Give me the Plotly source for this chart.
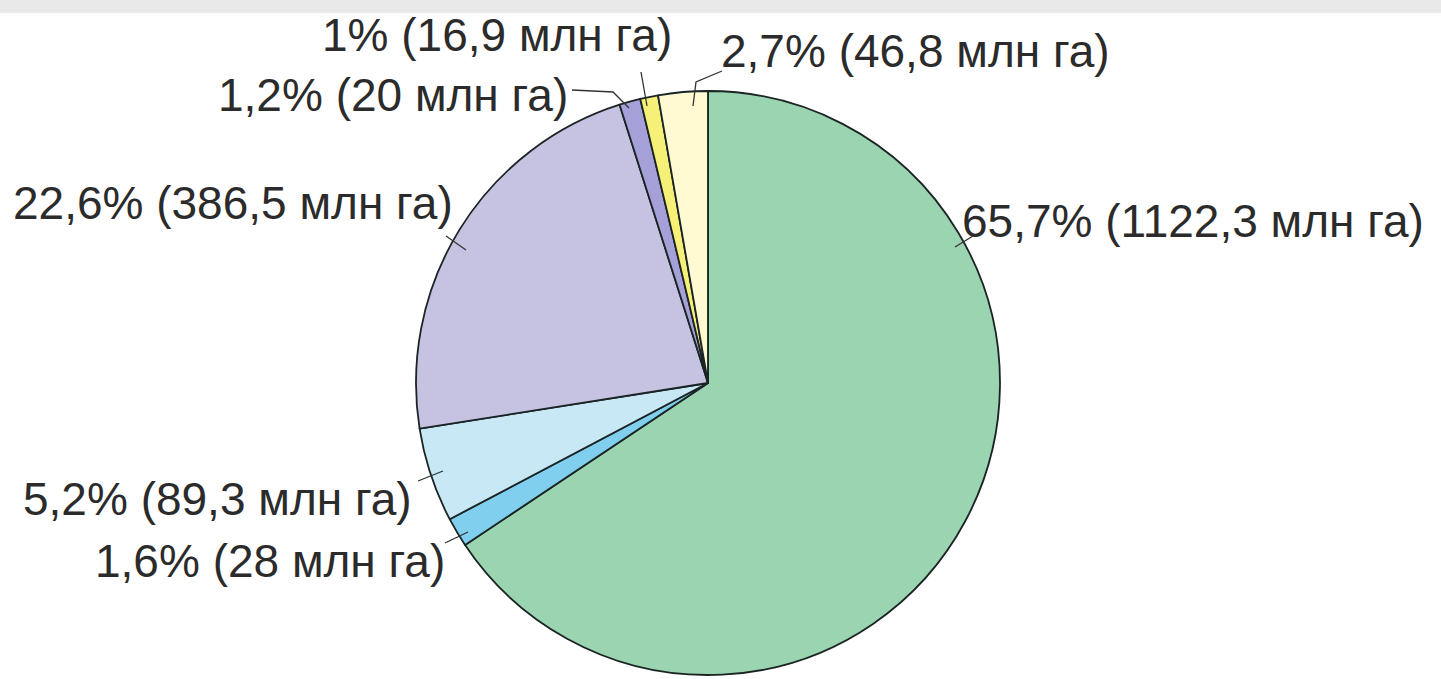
import plotly.graph_objects as go

# ---- data ----
areas_mln_ha = [1122.3, 28, 89.3, 386.5, 20, 16.9, 46.8]
percent_labels = ["65,7%", "1,6%", "5,2%", "22,6%", "1,2%", "1%", "2,7%"]
area_labels = ["1122,3", "28", "89,3", "386,5", "20", "16,9", "46,8"]
unit = "млн га"
colors = ["#9bd4b0", "#80cfef", "#c8e8f6", "#c6c2e2", "#a6a0d8", "#f6ef78", "#fffad2"]

W, H = 1441, 679

fig = go.Figure(go.Pie(
    values=areas_mln_ha,
    labels=[f"{p} ({a} {unit})" for p, a in zip(percent_labels, area_labels)],
    sort=False,
    direction="clockwise",
    rotation=0,
    marker=dict(colors=colors, line=dict(color="#1b2424", width=1.8)),
    textinfo="none",
    hoverinfo="label",
    showlegend=False,
    domain=dict(x=[416 / W, 1000 / W], y=[1 - 675 / H, 1 - 91 / H]),
))

# ---- label layout (pixel positions) ----
# (text index, x px, y px, xanchor)
label_pos = [
    (0, 960, 221, "left"),
    (1, 447, 561, "right"),
    (2, 414, 499, "right"),
    (3, 455, 203, "right"),
    (4, 570, 95, "right"),
    (5, 674, 35, "right"),
    (6, 719, 51, "left"),
]
leaders = [
    [(955, 247), (973, 236)],
    [(445, 543), (468, 532)],
    [(418, 481), (443, 471)],
    [(446, 236), (466, 250)],
    [(572, 90), (613, 92), (629, 108)],
    [(641, 72), (647, 106)],
    [(693, 106), (696, 82), (722, 71)],
]

def px(x):
    return x / W

def py(y):
    return 1 - y / H

annotations = []
for i, x, y, anchor in label_pos:
    annotations.append(dict(
        text=f"{percent_labels[i]} ({area_labels[i]} {unit})",
        x=px(x), y=py(y), xref="paper", yref="paper",
        xanchor=anchor, yanchor="middle", showarrow=False,
        font=dict(family="Liberation Sans, Arial, sans-serif", size=46, color="#2b2b2b"),
    ))

shapes = [dict(type="rect", xref="paper", yref="paper", x0=0, x1=1, y0=py(13), y1=1,
               fillcolor="#e9e9e9", line=dict(width=0), layer="below")]
for pts in leaders:
    path = "M " + " L ".join(f"{px(a)},{py(b)}" for a, b in pts)
    shapes.append(dict(type="path", xref="paper", yref="paper", path=path,
                       line=dict(color="#333333", width=1.3)))

fig.update_layout(
    width=W, height=H,
    margin=dict(l=0, r=0, t=0, b=0),
    paper_bgcolor="white",
    plot_bgcolor="white",
    annotations=annotations,
    shapes=shapes,
)

fig.write_html(
    "out.html",
    config={"displayModeBar": False},
    post_script="document.body.style.margin='0';document.body.style.overflow='hidden';",
)
